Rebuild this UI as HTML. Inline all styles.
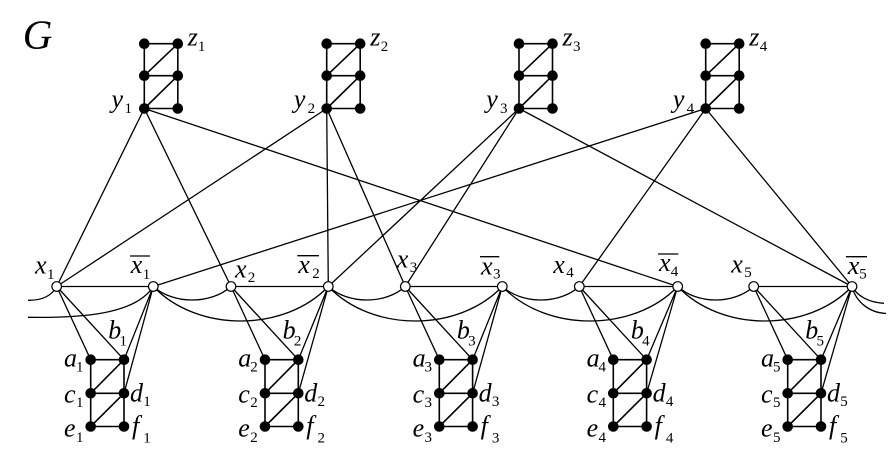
<!DOCTYPE html>
<html>
<head>
<meta charset="utf-8">
<style>
html,body{margin:0;padding:0;background:#fff;}
svg{display:block;}
.m{font-family:"Liberation Serif",serif;font-style:italic;font-size:26px;fill:#000;}
.s{font-family:"Liberation Serif",serif;font-size:15px;fill:#000;text-anchor:middle;}
.e{stroke:#000;stroke-width:1.3;fill:none;}
.g{stroke:#000;stroke-width:1.6;fill:none;}
.w{fill:#fff;stroke:#000;stroke-width:1.2;}
</style>
</head>
<body>
<svg width="891" height="462" viewBox="0 0 891 462" xmlns="http://www.w3.org/2000/svg">
<rect width="891" height="462" fill="#fff"/>
<text x="22.7" y="48.3" style="font-family:'Liberation Serif',serif;font-style:italic;font-size:41px;">G</text>

<!-- curves -->
<path class="e" d="M153.3 286.5 C173.3 304.5 211 304.5 231 286.5"/>
<path class="e" d="M328.3 286.5 C348.3 304.5 385.3 304.5 405.3 286.5"/>
<path class="e" d="M502.3 286.5 C522.3 304.5 559.3 304.5 579.3 286.5"/>
<path class="e" d="M677.7 286.5 C697.7 304.5 733.7 304.5 753.7 286.5"/>
<path class="e" d="M153.3 286.5 C197.3 332.5 284.3 332.5 328.3 286.5"/>
<path class="e" d="M328.3 286.5 C372.3 332.5 458.3 332.5 502.3 286.5"/>
<path class="e" d="M502.3 286.5 C546.3 332.5 633.7 332.5 677.7 286.5"/>
<path class="e" d="M677.7 286.5 C721.7 332.5 808 332.5 852 286.5"/>
<path class="e" d="M28 300.3 C40 300.5 51 297 56.7 286.5"/>
<path class="e" d="M28 317.3 C80 318 135 315 153.3 286.5"/>
<path class="e" d="M852 286.5 C858 297 870 302.5 884 303.3"/>
<path class="e" d="M852 286.5 C856 302 869 312.5 886 313.5"/>

<!-- y edges -->
<path class="e" d="M144.3 108.5 L56.7 286.5 M144.3 108.5 L231 286.5 M144.3 108.5 L677.7 286.5
M326.7 108.5 L56.7 286.5 M326.7 108.5 L328.3 286.5 M326.7 108.5 L405.3 286.5
M519 108.5 L328.3 286.5 M519 108.5 L405.3 286.5 M519 108.5 L852 286.5
M705.7 108.5 L153.3 286.5 M705.7 108.5 L579.3 286.5 M705.7 108.5 L852 286.5"/>

<!-- horizontal x - xbar -->
<path class="e" d="M56.7 286.5 H153.3 M231 286.5 H328.3 M405.3 286.5 H502.3 M579.3 286.5 H677.7 M753.7 286.5 H852"/>

<!-- top gadgets -->
<g transform="translate(144.3,0)">
<path class="g" d="M0 43.7H33.5 M0 75.7H33.5 M0 108.5H33.5 M0 43.7V108.5 M33.5 43.7V108.5 M0 75.7L33.5 43.7 M0 108.5L33.5 75.7"/>
<circle cx="0" cy="43.7" r="5.3"/><circle cx="33.5" cy="43.7" r="5.3"/>
<circle cx="0" cy="75.7" r="5.3"/><circle cx="33.5" cy="75.7" r="5.3"/>
<circle cx="0" cy="108.5" r="5.3"/><circle cx="33.5" cy="108.5" r="5.3"/>
<text class="m" x="43.5" y="45.5">z</text><text class="s" x="57.3" y="51">1</text>
<text class="m" x="-32.8" y="107.5">y</text><text class="s" x="-16" y="112.8">1</text>
</g>
<g transform="translate(326.7,0)">
<path class="g" d="M0 43.7H33.5 M0 75.7H33.5 M0 108.5H33.5 M0 43.7V108.5 M33.5 43.7V108.5 M0 75.7L33.5 43.7 M0 108.5L33.5 75.7"/>
<circle cx="0" cy="43.7" r="5.3"/><circle cx="33.5" cy="43.7" r="5.3"/>
<circle cx="0" cy="75.7" r="5.3"/><circle cx="33.5" cy="75.7" r="5.3"/>
<circle cx="0" cy="108.5" r="5.3"/><circle cx="33.5" cy="108.5" r="5.3"/>
<text class="m" x="43.5" y="45.5">z</text><text class="s" x="57.8" y="51">2</text>
<text class="m" x="-32.8" y="107.5">y</text><text class="s" x="-15.3" y="112.8">2</text>
</g>
<g transform="translate(519,0)">
<path class="g" d="M0 43.7H33.5 M0 75.7H33.5 M0 108.5H33.5 M0 43.7V108.5 M33.5 43.7V108.5 M0 75.7L33.5 43.7 M0 108.5L33.5 75.7"/>
<circle cx="0" cy="43.7" r="5.3"/><circle cx="33.5" cy="43.7" r="5.3"/>
<circle cx="0" cy="75.7" r="5.3"/><circle cx="33.5" cy="75.7" r="5.3"/>
<circle cx="0" cy="108.5" r="5.3"/><circle cx="33.5" cy="108.5" r="5.3"/>
<text class="m" x="43.5" y="45.5">z</text><text class="s" x="57.8" y="51">3</text>
<text class="m" x="-32.8" y="107.5">y</text><text class="s" x="-15.3" y="112.8">3</text>
</g>
<g transform="translate(705.7,0)">
<path class="g" d="M0 43.7H33.5 M0 75.7H33.5 M0 108.5H33.5 M0 43.7V108.5 M33.5 43.7V108.5 M0 75.7L33.5 43.7 M0 108.5L33.5 75.7"/>
<circle cx="0" cy="43.7" r="5.3"/><circle cx="33.5" cy="43.7" r="5.3"/>
<circle cx="0" cy="75.7" r="5.3"/><circle cx="33.5" cy="75.7" r="5.3"/>
<circle cx="0" cy="108.5" r="5.3"/><circle cx="33.5" cy="108.5" r="5.3"/>
<text class="m" x="43.5" y="45.5">z</text><text class="s" x="57.8" y="51">4</text>
<text class="m" x="-32.8" y="107.5">y</text><text class="s" x="-15.3" y="112.8">4</text>
</g>

<!-- bottom gadgets -->
<g transform="translate(56.7,0)">
<path class="e" d="M0 286.5 L34 359.7 M0 286.5 L67.3 359.7 M96.6 286.5 L67.3 359.7 M96.6 286.5 L67.3 393.3"/>
<path class="g" d="M34 359.7H67.3 M34 393.3H67.3 M34 426.5H67.3 M34 359.7V426.5 M67.3 359.7V426.5 M34 393.3L67.3 359.7 M34 426.5L67.3 393.3"/>
<circle cx="34" cy="359.7" r="5.3"/><circle cx="67.3" cy="359.7" r="5.3"/>
<circle cx="34" cy="393.3" r="5.3"/><circle cx="67.3" cy="393.3" r="5.3"/>
<circle cx="34" cy="426.5" r="5.3"/><circle cx="67.3" cy="426.5" r="5.3"/>
<circle class="w" cx="0" cy="286.5" r="4.8"/><circle class="w" cx="96.6" cy="286.5" r="4.8"/>
<text class="m" x="7.3" y="366.7">a</text><text class="s" x="23" y="371.7">1</text>
<text class="m" x="51.6" y="338.5">b</text><text class="s" x="66.6" y="345.5">1</text>
<text class="m" x="7.3" y="402.5">c</text><text class="s" x="23" y="407">1</text>
<text class="m" x="73.3" y="401.5">d</text><text class="s" x="90.3" y="406">1</text>
<text class="m" x="7.3" y="436.5">e</text><text class="s" x="23" y="442">1</text>
<text class="m" x="75.3" y="434">f</text><text class="s" x="90.3" y="442.7">1</text>
</g>
<g transform="translate(231,0)">
<path class="e" d="M0 286.5 L34 359.7 M0 286.5 L67.3 359.7 M97.3 286.5 L67.3 359.7 M97.3 286.5 L67.3 393.3"/>
<path class="g" d="M34 359.7H67.3 M34 393.3H67.3 M34 426.5H67.3 M34 359.7V426.5 M67.3 359.7V426.5 M34 393.3L67.3 359.7 M34 426.5L67.3 393.3"/>
<circle cx="34" cy="359.7" r="5.3"/><circle cx="67.3" cy="359.7" r="5.3"/>
<circle cx="34" cy="393.3" r="5.3"/><circle cx="67.3" cy="393.3" r="5.3"/>
<circle cx="34" cy="426.5" r="5.3"/><circle cx="67.3" cy="426.5" r="5.3"/>
<circle class="w" cx="0" cy="286.5" r="4.8"/><circle class="w" cx="97.3" cy="286.5" r="4.8"/>
<text class="m" x="7.3" y="366.7">a</text><text class="s" x="23" y="371.7">2</text>
<text class="m" x="51.6" y="338.5">b</text><text class="s" x="66.6" y="345.5">2</text>
<text class="m" x="7.3" y="402.5">c</text><text class="s" x="23" y="407">2</text>
<text class="m" x="73.3" y="401.5">d</text><text class="s" x="90.3" y="406">2</text>
<text class="m" x="7.3" y="436.5">e</text><text class="s" x="23" y="442">2</text>
<text class="m" x="75.3" y="434">f</text><text class="s" x="90.3" y="442.7">2</text>
</g>
<g transform="translate(405.3,0)">
<path class="e" d="M0 286.5 L34 359.7 M0 286.5 L67.3 359.7 M97 286.5 L67.3 359.7 M97 286.5 L67.3 393.3"/>
<path class="g" d="M34 359.7H67.3 M34 393.3H67.3 M34 426.5H67.3 M34 359.7V426.5 M67.3 359.7V426.5 M34 393.3L67.3 359.7 M34 426.5L67.3 393.3"/>
<circle cx="34" cy="359.7" r="5.3"/><circle cx="67.3" cy="359.7" r="5.3"/>
<circle cx="34" cy="393.3" r="5.3"/><circle cx="67.3" cy="393.3" r="5.3"/>
<circle cx="34" cy="426.5" r="5.3"/><circle cx="67.3" cy="426.5" r="5.3"/>
<circle class="w" cx="0" cy="286.5" r="4.8"/><circle class="w" cx="97" cy="286.5" r="4.8"/>
<text class="m" x="7.3" y="366.7">a</text><text class="s" x="23" y="371.7">3</text>
<text class="m" x="51.6" y="338.5">b</text><text class="s" x="66.6" y="345.5">3</text>
<text class="m" x="7.3" y="402.5">c</text><text class="s" x="23" y="407">3</text>
<text class="m" x="73.3" y="401.5">d</text><text class="s" x="90.3" y="406">3</text>
<text class="m" x="7.3" y="436.5">e</text><text class="s" x="23" y="442">3</text>
<text class="m" x="75.3" y="434">f</text><text class="s" x="90.3" y="442.7">3</text>
</g>
<g transform="translate(579.3,0)">
<path class="e" d="M0 286.5 L34 359.7 M0 286.5 L67.3 359.7 M98.4 286.5 L67.3 359.7 M98.4 286.5 L67.3 393.3"/>
<path class="g" d="M34 359.7H67.3 M34 393.3H67.3 M34 426.5H67.3 M34 359.7V426.5 M67.3 359.7V426.5 M34 393.3L67.3 359.7 M34 426.5L67.3 393.3"/>
<circle cx="34" cy="359.7" r="5.3"/><circle cx="67.3" cy="359.7" r="5.3"/>
<circle cx="34" cy="393.3" r="5.3"/><circle cx="67.3" cy="393.3" r="5.3"/>
<circle cx="34" cy="426.5" r="5.3"/><circle cx="67.3" cy="426.5" r="5.3"/>
<circle class="w" cx="0" cy="286.5" r="4.8"/><circle class="w" cx="98.4" cy="286.5" r="4.8"/>
<text class="m" x="7.3" y="366.7">a</text><text class="s" x="23" y="371.7">4</text>
<text class="m" x="51.6" y="338.5">b</text><text class="s" x="66.6" y="345.5">4</text>
<text class="m" x="7.3" y="402.5">c</text><text class="s" x="23" y="407">4</text>
<text class="m" x="73.3" y="401.5">d</text><text class="s" x="90.3" y="406">4</text>
<text class="m" x="7.3" y="436.5">e</text><text class="s" x="23" y="442">4</text>
<text class="m" x="75.3" y="434">f</text><text class="s" x="90.3" y="442.7">4</text>
</g>
<g transform="translate(753.7,0)">
<path class="e" d="M0 286.5 L34 359.7 M0 286.5 L67.3 359.7 M98.3 286.5 L67.3 359.7 M98.3 286.5 L67.3 393.3"/>
<path class="g" d="M34 359.7H67.3 M34 393.3H67.3 M34 426.5H67.3 M34 359.7V426.5 M67.3 359.7V426.5 M34 393.3L67.3 359.7 M34 426.5L67.3 393.3"/>
<circle cx="34" cy="359.7" r="5.3"/><circle cx="67.3" cy="359.7" r="5.3"/>
<circle cx="34" cy="393.3" r="5.3"/><circle cx="67.3" cy="393.3" r="5.3"/>
<circle cx="34" cy="426.5" r="5.3"/><circle cx="67.3" cy="426.5" r="5.3"/>
<circle class="w" cx="0" cy="286.5" r="4.8"/><circle class="w" cx="98.3" cy="286.5" r="4.8"/>
<text class="m" x="7.3" y="366.7">a</text><text class="s" x="23" y="371.7">5</text>
<text class="m" x="51.6" y="338.5">b</text><text class="s" x="66.6" y="345.5">5</text>
<text class="m" x="7.3" y="402.5">c</text><text class="s" x="23" y="407">5</text>
<text class="m" x="73.3" y="401.5">d</text><text class="s" x="90.3" y="406">5</text>
<text class="m" x="7.3" y="436.5">e</text><text class="s" x="23" y="442">5</text>
<text class="m" x="75.3" y="434">f</text><text class="s" x="90.3" y="442.7">5</text>
</g>

<!-- middle labels -->
<text class="m" x="35" y="273.3">x</text><text class="s" x="50.8" y="279">1</text>
<text class="m" x="235" y="277.5">x</text><text class="s" x="251.5" y="282">2</text>
<text class="m" x="396.7" y="267.5">x</text><text class="s" x="413.5" y="272">3</text>
<text class="m" x="553.3" y="273">x</text><text class="s" x="570" y="277">4</text>
<text class="m" x="731.3" y="272.5">x</text><text class="s" x="748" y="277">5</text>

<text class="m" x="130.7" y="273">x</text><text class="s" x="146.5" y="279">1</text>
<text class="m" x="298.3" y="273">x</text><text class="s" x="316" y="278">2</text>
<text class="m" x="481" y="274.5">x</text><text class="s" x="496.7" y="278.5">3</text>
<text class="m" x="659" y="271">x</text><text class="s" x="674.5" y="276">4</text>
<text class="m" x="847.7" y="274">x</text><text class="s" x="863" y="278.5">5</text>
<path class="e" d="M130 256 H150 M297.3 255.7 H319 M480 256.7 H499.3 M658 254 H678.3 M846 256.7 H867"/>
</svg>
</body>
</html>
